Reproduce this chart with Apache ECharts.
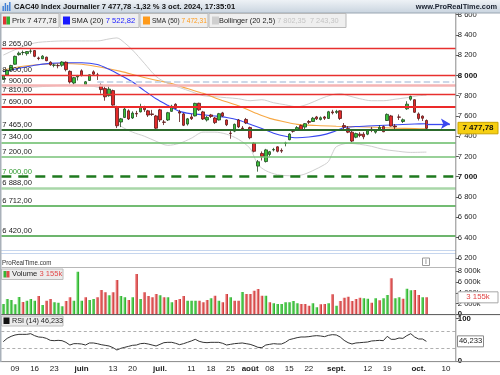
<!DOCTYPE html>
<html>
<head>
<meta charset="utf-8">
<script src="https://cdn.jsdelivr.net/npm/echarts@6.0.0/dist/echarts.min.js"></script>
<style>
html,body{margin:0;padding:0;background:#ffffff;}
#chart{width:500px;height:375px;}
</style>
</head>
<body>
<div id="chart"></div>
<script>
// ================= DATA =================
const opens = [7960,8005,8055,8110,8205,8225,8215,8238,8245,8172, 8165,8180,8130,8100,8098,8100,8130,8040,7925,7985, 8045,7910,7950,8035,8005,7905,7870,7800,7850,7690, 7540,7585,7650,7580,7625,7640,7690,7650,7620,7600, 7660,7540,7560,7645,7715,7640,7620,7520,7590,7600, 7725,7640,7560,7610,7580,7560,7630,7560,7430,7450, 7560,7480,7565,7485,7330,7105,7230,7150,7220,7265, 7295,7260,7330,7365,7450,7460,7505,7490,7545,7545, 7590,7565,7590,7575,7640,7635,7650,7505,7475,7440, 7390,7420,7420,7420,7470,7440,7470,7495,7555,7600, 7500,7590,7545,7670,7765,7760,7620,7598,7555];
const highs = [8005,8060,8105,8195,8235,8245,8240,8259,8250,8185, 8200,8185,8140,8115,8115,8140,8138,8050,7985,8005, 8060,7945,8010,8050,8025,7920,7890,7890,7860,7700, 7580,7680,7665,7645,7650,7720,7700,7660,7660,7610, 7670,7560,7640,7710,7725,7660,7630,7580,7620,7730, 7730,7650,7600,7620,7590,7630,7640,7565,7470,7525, 7570,7500,7580,7495,7340,7165,7250,7275,7255,7285, 7300,7280,7345,7430,7470,7500,7515,7530,7560,7590, 7600,7595,7600,7650,7660,7660,7655,7530,7500,7455, 7435,7440,7440,7470,7490,7470,7510,7505,7625,7610, 7520,7615,7575,7745,7800,7765,7635,7605,7565];
const lows = [7955,7995,8040,8105,8195,8200,8195,8215,8180,8150, 8160,8140,8095,8080,8070,8085,8040,7920,7910,7950, 7990,7895,7945,8000,7955,7820,7750,7790,7700,7480, 7490,7580,7560,7570,7590,7635,7640,7590,7600,7470, 7540,7510,7550,7640,7670,7540,7500,7505,7560,7595, 7650,7560,7545,7580,7520,7555,7590,7500,7375,7440, 7480,7455,7520,7370,7240,7050,7160,7140,7200,7250, 7240,7235,7300,7360,7435,7455,7455,7470,7520,7540, 7560,7555,7560,7570,7615,7620,7560,7470,7430,7340, 7380,7390,7370,7410,7440,7425,7460,7440,7550,7495, 7455,7560,7530,7660,7750,7630,7555,7550,7470];
const closes = [7997,8050,8098,8188,8219,8226,8235,8240,8188,8167, 8190,8145,8105,8102,8095,8132,8057,7935,7978,7993, 7999,7937,8006,8012,8002,7860,7789,7865,7707,7503, 7571,7668,7570,7628,7620,7693,7662,7609,7614,7479, 7561,7537,7632,7696,7675,7628,7508,7571,7573,7724, 7660,7570,7586,7595,7534,7622,7599,7513,7427,7517, 7492,7474,7531,7385,7251,7148,7200,7265,7247,7269, 7251,7253,7333,7421,7449,7485,7466,7524,7537,7577, 7571,7582,7577,7641,7631,7645,7575,7490,7440,7352, 7426,7408,7394,7454,7465,7458,7488,7444,7615,7500, 7492,7587,7562,7716,7792,7636,7575,7577,7477.78];

const volumesK = [1916,2846,2660,1854,3218,2288,2536,2846,2536,3404, 1730,2536,2846,2226,2164,1482,2474,3156,2536,7932, 2536,3156,2660,2846,3156,4521,4087,3528,4087,6382, 3404,3156,2660,3156,7498,2846,4087,3404,3156,3776, 3528,3156,3156,2226,2660,2846,3404,2536,2536,2536, 2536,2226,2660,2970,3466,2536,2226,3776,3156,2536, 2536,4149,3776,3776,4397,4707,3466,3466,2226,2040, 1916,1916,2226,2226,2474,2040,1916,1916,1606,2040, 1296,1854,1916,2040,3714,1606,2474,3094,3280,2474, 2846,3094,2970,2908,2164,2970,2598,2970,3590,6692, 2970,3156,2908,4769,4459,4521,3590,3156,3155];
const volumeUp = [1,1,1,1,1,0,1,1,1,0, 1,0,0,1,1,1,0,0,1,1, 1,0,1,1,0,0,0,1,0,0, 1,1,0,1,0,1,0,0,0,0, 1,0,1,1,0,0,0,1,1,1, 0,0,0,1,0,1,0,0,1,0, 0,1,0,0,0,0,0,1,0,1, 1,1,1,1,1,1,0,0,0,1, 1,0,0,1,0,1,0,0,0,0, 0,0,1,1,0,1,0,1,1,0, 1,1,0,1,1,0,0,1,0];

const rsiValues = [45.5,53.3,58.0,61.2,62.7,62.7,62.7,64.3,59.6,56.5, 55.7,53.3,48.6,47.8,48.6,47.8,43.9,37.6,40.8,40.8, 40.0,37.6,42.4,42.4,40.8,38.4,36.9,35.3,31.4,25.9, 29.8,32.2,34.5,36.9,37.6,40.8,41.6,40.0,37.6,35.3, 39.2,43.1,43.9,43.9,41.6,38.4,40.8,43.9,47.1,51.0, 46.3,43.9,43.1,43.9,43.9,43.9,41.6,37.6,39.2,40.8, 41.6,42.4,40.8,39.2,36.1,32.2,31.4,37.6,39.2,40.8, 40.0,40.0,43.9,50.2,52.5,54.9,56.5,56.5,57.3,58.8, 59.6,58.8,57.3,60.4,62.0,61.2,56.5,48.6,43.1,40.0, 42.4,43.1,43.9,44.7,47.1,47.8,48.6,47.8,58.0,51.0, 51.0,54.1,53.3,59.6,64.3,56.5,51.8,51.8,46.233];

// indicator lines (day index -> value)
const sma20Idx = [0,4,8,12,16,20,24,27,30,33,36,39,42,45,48,51,54,57,60,63,66,69,72,75,78,81,84,87,90,93,96,99,102,105,108];
const sma20Val = [8037,8070,8100,8119,8125,8125,8108,8060,8000,7935,7850,7770,7705,7645,7622,7612,7600,7585,7560,7517,7475,7430,7400,7385,7392,7408,7440,7485,7495,7500,7505,7510,7515,7520,7522.82];
const sma50Idx = [0,5,10,15,20,25,30,35,40,43,47,51,55,60,64,68,72,75,80,85,90,95,100,105,108];
const sma50Val = [8053,8090,8110,8118,8110,8080,8040,7990,7945,7920,7870,7823,7765,7700,7635,7576,7540,7517,7505,7498,7494,7488,7480,7475,7472.31];
const bbUpIdx = [0,4,8,12,16,20,24,27,29,31,33,36,39,42,45,48,51,54,57,60,63,66,69,72,75,78,81,84,86,88,91,94,97,100,103,106,108];
const bbUpVal = [8200,8270,8320,8335,8340,8340,8340,8360,8370,8320,8250,8120,7990,7920,7880,7840,7800,7790,7780,7770,7750,7760,7730,7710,7690,7720,7770,7810,7820,7800,7770,7750,7750,7765,7780,7800,7802.35];
const bbLowIdx = [0,4,8,12,16,20,24,26,28,29,30,33,36,39,42,45,48,51,54,57,60,63,64,65,67,70,73,76,79,82,83,84,85,88,91,94,97,100,104,108];
const bbLowVal = [7870,7875,7885,7895,7905,7900,7885,7840,7770,7560,7500,7440,7400,7350,7310,7330,7380,7440,7440,7420,7370,7280,7200,7120,7060,7020,7010,7016,7060,7120,7150,7230,7296,7330,7320,7300,7270,7255,7240,7243.3];

// horizontal levels drawn on the price panel
const levelValues = [8265, 8000, 7900, 7810, 7690, 7465, 7340, 7200, 7000, 6888, 6712, 6420];
const levelLabels = ['8 265,00','8 000,00','7 900,00','7 810,00','7 690,00','7 465,00','7 340,00','7 200,00','7 000,00','6 888,00','6 712,00','6 420,00'];
const gapLineValue = 7937;
const gapLineStart = 24;

// x-axis tick labels
const tickDates = ['2024-05-09','2024-05-16','2024-05-23','2024-06-03','2024-06-13','2024-06-20','2024-07-01','2024-07-11','2024-07-18','2024-07-25','2024-08-01','2024-08-08','2024-08-15','2024-08-22','2024-09-02','2024-09-12','2024-09-19','2024-10-01','2024-10-10'];
const tickTexts = ['09','16','23','juin','13','20','juil.','11','18','25','août','08','15','22','sept.','12','19','oct.','10'];
const monthTicks = ['juin','juil.','août','sept.','oct.'];

// trading-day categories (weekdays, 6 May – 14 Oct 2024)
const dates = [];
(function(){
  let t = Date.UTC(2024,4,6);
  const end = Date.UTC(2024,9,14);
  while (t <= end) {
    const d = new Date(t);
    const wd = d.getUTCDay();
    if (wd !== 0 && wd !== 6) dates.push(d.toISOString().slice(0,10));
    t += 86400000;
  }
})();

// ================= BUILD =================
const N = dates.length;
const nData = closes.length;
const FONT = 'Liberation Sans';
const candleData = closes.map((c,i)=>[opens[i], c, lows[i], highs[i]]);
function sparse(idx, val){ const a = new Array(N).fill(null); idx.forEach((k,j)=>{a[k]=val[j];}); return a; }
const fmtNum = v => String(v).replace(/\B(?=(\d{3})+(?!\d))/g,' ');
const tickMap = {}; tickDates.forEach((d,i)=>tickMap[d]=tickTexts[i]);

const levelStyles = [
  {color:'#e8302e', width:1.3},
  {color:'#e8302e', width:1.3},
  {color:'#f4b4b4', width:2.6},
  {color:'#e8302e', width:1.3},
  {color:'#ec2a2a', width:2},
  {color:'#2c6a2c', width:2},
  {color:'#66bb66', width:1.5},
  {color:'#77c277', width:1.5},
  {color:'#1f7a1f', width:2.5, type:[10,7]},
  {color:'#a9d7a9', width:2.5},
  {color:'#44a644', width:1.5},
  {color:'#3c9c3c', width:1.5}
];
const levelMarks = levelValues.map((v,i)=>({
  yAxis: v,
  lineStyle: {color: levelStyles[i].color, width: levelStyles[i].width, type: levelStyles[i].type || 'solid'},
  label: {show:true, formatter: levelLabels[i], position:'insideStartTop', distance:[1,1],
          color: v===7000 ? '#2f9a2f' : '#222', fontSize:7.6, fontFamily:FONT}
}));
levelMarks.push([
  {coord:[dates[gapLineStart], gapLineValue], lineStyle:{color:'#bccbe2', width:1.6}, label:{show:false}},
  {coord:[dates[N-1], gapLineValue]}
]);

const grids = [
  {left:1.3, right:44.2, top:14.6, height:243.2},
  {left:1.3, right:44.2, top:271.3, height:43},
  {left:1.3, right:44.2, top:318.5, height:42.5}
];
function xAx(g, show){
  return {type:'category', gridIndex:g, data:dates, boundaryGap:true, show:show,
    axisLine:{show:false}, axisTick:{show:false}, splitLine:{show:false},
    axisLabel:{show:show, interval:(idx,val)=>tickMap[val]!==undefined, margin:4,
      fontSize:8, fontFamily:FONT, color:'#222',
      formatter:(val)=>{const t=tickMap[val]; if(!t) return ''; return monthTicks.includes(t)?'{b|'+t+'}':t;},
      rich:{b:{fontWeight:'bold', fontSize:8, fontFamily:FONT, color:'#222'}}}};
}
function yAx(g, min, max, interval, fmt){
  return {type:'value', gridIndex:g, position:'right', min:min, max:max, interval:interval, scale:false,
    axisLine:{show:false}, splitLine:{show:false},
    axisTick:{show:true, length:3, lineStyle:{color:'#555', width:1}},
    axisLabel:{show:true, margin:2, fontSize:7.6, fontFamily:FONT, color:'#222', formatter:fmt,
      rich:{b:{fontWeight:'bold', fontSize:7.8, fontFamily:FONT, color:'#111'}}}};
}

const volGreen = {type:'linear', x:0, y:0, x2:1, y2:0, colorStops:[{offset:0,color:'#9be79b'},{offset:0.5,color:'#4ccc4c'},{offset:1,color:'#249c24'}]};
const volRed = {type:'linear', x:0, y:0, x2:1, y2:0, colorStops:[{offset:0,color:'#f6a9a9'},{offset:0.5,color:'#e66060'},{offset:1,color:'#b82828'}]};

const chart = echarts.init(document.getElementById('chart'), null, {renderer:'canvas'});
chart.setOption({
  animation:false,
  backgroundColor:'#ffffff',
  textStyle:{fontFamily:FONT},
  grid: grids,
  xAxis: [xAx(0,false), xAx(1,false), xAx(2,true)],
  yAxis: [
    yAx(0, 6200, 8600, 200, v=>{const s=fmtNum(v); return (v===8000||v===7000)?'{b|'+s+'}':s;}),
    yAx(1, 0, 8000, 2000, v=> v===0 ? '{b|0}' : fmtNum(v)+'k'),
    yAx(2, 0, 100, 100, v=> '{b|'+v+'}')
  ],
  series: [
    {name:'levels', type:'line', xAxisIndex:0, yAxisIndex:0, data:new Array(N).fill(null), z:1, silent:true,
      showSymbol:false, lineStyle:{opacity:0},
      markLine:{silent:true, symbol:['none','none'], animation:false, data:levelMarks}},
    {name:'bbUp', type:'line', xAxisIndex:0, yAxisIndex:0, data:sparse(bbUpIdx,bbUpVal), connectNulls:true, showSymbol:false, smooth:0.3, z:2,
      lineStyle:{color:'#cfcfcf', width:1}},
    {name:'bbLow', type:'line', xAxisIndex:0, yAxisIndex:0, data:sparse(bbLowIdx,bbLowVal), connectNulls:true, showSymbol:false, smooth:0.3, z:2,
      lineStyle:{color:'#cfcfcf', width:1}},
    {name:'sma50', type:'line', xAxisIndex:0, yAxisIndex:0, data:sparse(sma50Idx,sma50Val), connectNulls:true, showSymbol:false, smooth:0.3, z:2,
      lineStyle:{color:'#f7a844', width:1.1}},
    {name:'sma20', type:'line', xAxisIndex:0, yAxisIndex:0, data:sparse(sma20Idx,sma20Val), connectNulls:true, showSymbol:false, smooth:0.3, z:2,
      lineStyle:{color:'#3a48f0', width:1.1},
      markLine:{silent:true, symbol:['none','arrow'], symbolSize:[8,9], animation:false,
        lineStyle:{color:'#3a48f0', width:1.3, type:'solid'}, label:{show:false},
        data:[[{coord:[dates[nData-1], sma20Val[sma20Val.length-1]]},{coord:[dates[nData+5], sma20Val[sma20Val.length-1]]}]]}},
    {name:'price', type:'candlestick', xAxisIndex:0, yAxisIndex:0, data:candleData, barWidth:3, z:3,
      itemStyle:{color:'#39c039', color0:'#e42a2a', borderColor:'#1f4a1f', borderColor0:'#5a1818', borderWidth:0.8}},
    {name:'volume', type:'bar', xAxisIndex:1, yAxisIndex:1, barWidth:2.8,
      data: volumesK.map((v,i)=>({value:v, itemStyle:{color: volumeUp[i]?volGreen:volRed}}))},
    {name:'rsi', type:'line', xAxisIndex:2, yAxisIndex:2, data:rsiValues, showSymbol:false, z:3,
      lineStyle:{color:'#333', width:1},
      markLine:{silent:true, symbol:['none','none'], animation:false, label:{show:false},
        lineStyle:{color:'#9a9a9a', width:0.8, type:[3,2.5]},
        data:[{yAxis:70},{yAxis:30}]}}
  ]
});

// ---- chrome drawn after scales exist ----
const lastIdx = nData-1;
const yPrice = chart.convertToPixel({yAxisIndex:0}, closes[lastIdx]);
const yVol = chart.convertToPixel({yAxisIndex:1}, volumesK[lastIdx]);
const yRsi = chart.convertToPixel({yAxisIndex:2}, rsiValues[lastIdx]);

function txt(x,y,text,opt){
  opt = opt||{};
  return {type:'text', x:x, y:y, z:opt.z||50, silent:true, scaleX:opt.sx||1,
    style:{text:text, fill:opt.fill||'#222', fontSize:opt.size||7.6, fontFamily:FONT, fontWeight:opt.weight||'normal',
      align:opt.align||'left', verticalAlign:'middle', rich:opt.rich}};
}
function rect(x,y,w,h,fill,stroke,z){
  return {type:'rect', z:z||40, silent:true, shape:{x:x,y:y,width:w,height:h}, style:{fill:fill, stroke:stroke||null, lineWidth:stroke?1:0}};
}
function line(x1,y1,x2,y2,stroke,w,z){
  return {type:'line', z:z||40, silent:true, shape:{x1:x1,y1:y1,x2:x2,y2:y2}, style:{stroke:stroke, lineWidth:w||1}};
}
const legendRich = {
  a:{fill:'#222', fontSize:7.6, fontFamily:FONT},
  blue:{fill:'#2222ff', fontSize:7.6, fontFamily:FONT},
  orange:{fill:'#ff9a1a', fontSize:7.6, fontFamily:FONT},
  gray:{fill:'#c4c4c4', fontSize:7.6, fontFamily:FONT},
  red:{fill:'#e24848', fontSize:7.6, fontFamily:FONT}
};
const graphics = [
  // header bar
  {type:'rect', z:40, silent:true, shape:{x:0,y:0,width:500,height:13},
    style:{fill:{type:'linear',x:0,y:0,x2:0,y2:1,colorStops:[{offset:0,color:'#eef2f6'},{offset:1,color:'#c9d4df'}]}}},
  line(0,13,500,13,'#9aa6b2',1),
  rect(2.5,6,1.4,5,'#3f7fd6',null,45), rect(4.7,3,1.4,8,'#3f7fd6',null,45), rect(6.9,5,1.4,6,'#3f7fd6',null,45), rect(9.1,2,1.4,9,'#3f7fd6',null,45),
  txt(14,7,'CAC40 Index Journalier 7 477,78 -1,32 % 3 oct. 2024, 17:35:01',{weight:'bold',size:7.6,fill:'#111'}),
  txt(497,7,'www.ProRealTime.com',{weight:'bold',size:7.4,fill:'#1a2230',align:'right'}),
  // legend row
  rect(0.5,13.5,58.5,14,'#efefef','#b9b9b9'),
  rect(3,16.5,3.5,8,'#e03434',null,45), rect(6.5,16.5,3.5,8,'#2fb02f',null,45),
  txt(12,20.8,'Prix 7 477,78'),
  rect(60,13.5,79,14,'#efefef','#b9b9b9'),
  rect(63,16.5,7,8,'#1a1aff',null,45),
  txt(71.5,20.8,'{a|SMA (20)} {blue|7 522,82}',{rich:legendRich}),
  rect(140,13.5,68,14,'#efefef','#b9b9b9'),
  rect(143,16.5,7,8,'#ff9a1a',null,45),
  txt(152,20.8,'{a|SMA (50)} {orange|7 472,31}',{rich:legendRich, sx:0.86}),
  rect(209,13.5,137,14,'#efefef','#b9b9b9'),
  rect(212,16.5,7,8,'#cfcfcf',null,45),
  txt(219,20.8,'{a|Bollinger (20 2,5)} {gray|7 802,35  7 243,30}',{rich:legendRich, sx:0.97}),
  // left border
  rect(0,13,1.5,349,'#a9b1ba',null,45),
  // price panel bottom separators
  line(0,250.5,456,250.5,'#c6d6ee',1), line(0,253.5,456,253.5,'#c6d6ee',1),
  // volume panel
  txt(2,263.2,'ProRealTime.com',{size:7.4,fill:'#333',sx:0.84}),
  rect(422.5,258,7,7.5,'#ffffff','#999999'),
  txt(426,262,'i',{size:6.5,fill:'#555',align:'center'}),
  line(1.5,267.5,456,267.5,'#b8b8b8',1),
  rect(1.5,269,61.5,10.5,'#ececec','#bcbcbc'),
  rect(3.5,271,3,6.5,'#35b535',null,45), rect(6.5,271,3,6.5,'#e04a4a',null,45),
  txt(12,274.4,'{a|Volume} {red|3 155k}',{rich:legendRich}),
  line(0,314.6,500,314.6,'#555',1),
  // RSI panel
  rect(1.5,316,61.5,10,'#ececec','#bcbcbc'),
  rect(3.5,317.5,6,6.5,'#111',null,45),
  txt(12,321.2,'RSI (14) 46,233',{sx:0.95}),
  line(0,361.6,500,361.6,'#888',1),
  // right axis line
  line(455.8,13,455.8,362,'#8a8a8a',1),
  // value boxes
  rect(458,yPrice-6,40,11.5,'#f6cf12','#c9a400',60),
  txt(478,yPrice-0.2,'7 477,78',{weight:'bold',size:8,fill:'#111',align:'center',z:61}),
  rect(458,yVol-5.5,40,11,'#ffffff','#a8a8a8',60),
  txt(478,yVol,'3 155k',{size:7.8,fill:'#e04444',align:'center',z:61}),
  rect(457.5,yRsi-5.5,26,11,'#ffffff','#8a8a8a',60),
  txt(470.5,yRsi,'46,233',{size:7.6,fill:'#222',align:'center',z:61})
];
chart.setOption({graphic: graphics});
</script>
</body>
</html>
